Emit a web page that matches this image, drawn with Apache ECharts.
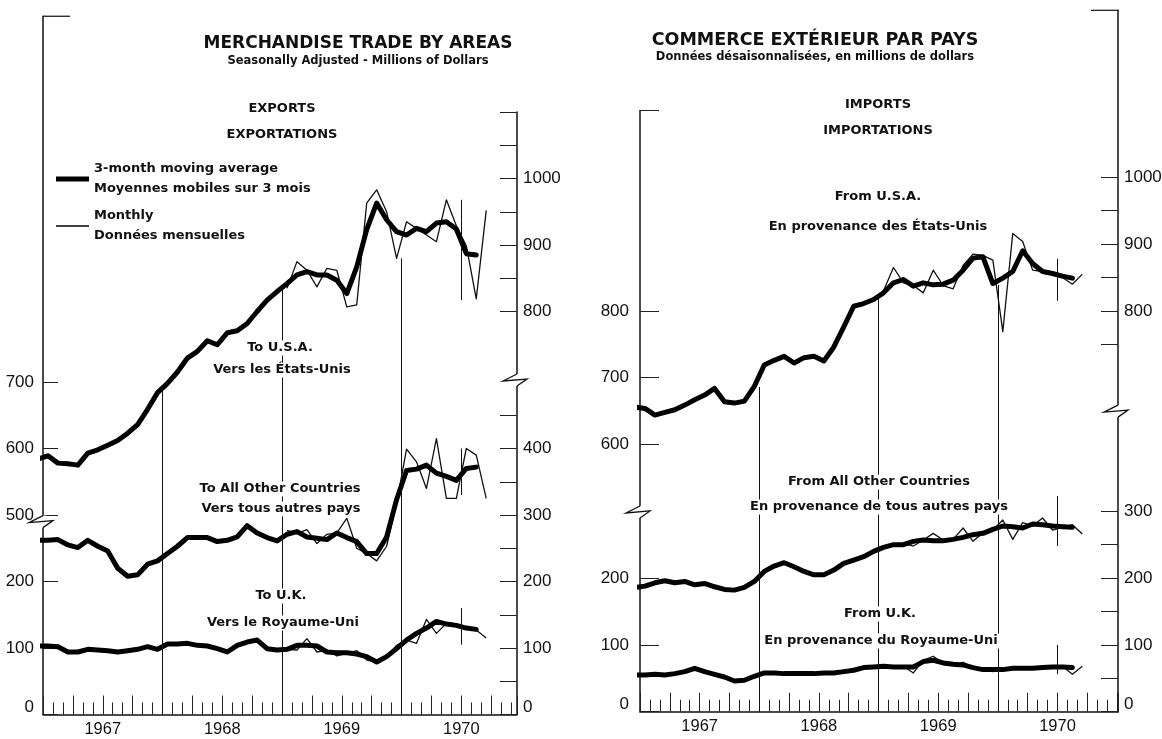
<!DOCTYPE html>
<html><head><meta charset="utf-8">
<script src="https://cdn.jsdelivr.net/npm/echarts@6/dist/echarts.min.js"></script>
<style>html,body{margin:0;padding:0;background:#fff}#c{width:1162px;height:739px}</style>
</head><body><div id="c"></div>
<script>
// ---------------- DATA (millions of dollars) ----------------
const YEARS = ['1967', '1968', '1969', '1970'];
const MA_START = -1;       // first 3-month average: Dec 1966 (month index, Jan 1967 = 0)
const MONTHLY_START = 24;  // monthly figures shown from Jan 1969

// Exports
const expUSA_MA = [584,589,578,577,575,593,598,605,612,623,636,659,684,698,715,736,746,762,756,774,777,788,806,823,836,848,861,866,861,861,853,833,873,929,969,944,926,921,931,926,939,941,930,893,891];
const expUSA_M = [841,881,868,843,871,868,813,816,969,989,956,886,941,931,921,911,974,935,905,825,958];
const expOther_MA = [262,262,263,255,251,262,253,246,220,208,210,226,231,242,253,266,266,266,260,262,267,284,273,266,261,271,275,267,265,263,273,266,260,242,242,267,323,367,369,375,363,358,352,370,372];
const expOther_M = [277,272,278,257,271,273,295,250,242,231,253,317,399,380,340,415,325,325,400,390,325];
const expUK_MA = [103,103,102,94,94,98,97,96,94,96,98,102,98,106,106,107,104,103,99,94,104,109,112,99,97,98,104,104,103,94,93,93,91,87,79,87,99,112,122,130,140,136,134,130,128];
const expUK_M = [98,97,114,94,97,88,92,96,82,78,87,104,112,107,143,122,137,135,130,127,115];

// Imports
const impUSA_MA = [656,654,644,648,652,659,667,674,684,664,662,665,687,719,726,732,722,730,732,725,746,776,807,811,817,827,842,847,837,842,839,840,846,861,879,881,841,849,859,890,871,859,856,852,849];
const impUSA_M = [830,865,842,838,827,861,838,833,868,885,883,876,769,916,904,861,859,855,850,840,855];
const impOther_MA = [186,188,193,196,193,195,190,192,187,183,182,186,195,210,218,223,217,210,205,205,212,222,227,232,240,246,250,250,255,257,256,256,258,261,265,267,273,278,277,275,281,280,278,277,276];
const impOther_M = [246,250,252,248,257,267,257,258,275,255,268,272,287,258,283,278,290,272,276,280,266];
const impUK_MA = [55,55,56,55,57,60,65,60,56,52,46,47,53,58,58,57,57,57,57,58,58,60,62,66,67,68,67,67,67,75,77,73,71,70,66,63,63,63,65,65,65,66,67,67,66];
const impUK_M = [68,67,68,58,77,83,73,70,74,66,64,60,64,64,65,65,68,67,68,56,68];

// year dividers (from zero up to the U.S.A. curve) and the mid-1970 markers
const YEAR_BOUNDS = [12, 24, 36];
const expDividerTops = [691, 842, 886];
const impDividerTops = [686, 819, 839];
const MARK_MONTH = 42;
const expMarkSpans = [[823, 974], [330, 400], [105, 160]];
const impMarkSpans = [[815, 878], [248, 323], [56, 100]];

// ---------------- LAYOUT ----------------
const P1 = { L: 43, W: 474, Z: 714.5, S: 0.665 };
const P2 = { L: 640, W: 478, Z: 711.7, S: 0.668 };
P1.XMAX = P1.W / 9.96; P2.XMAX = P2.W / 9.94;
const FONT = '"DejaVu Sans", sans-serif';
const NUMFONT = '"Liberation Sans", sans-serif';
const NUMSIZE = 17;
const AXIS_LINE = { color: '#111', width: 1.5 };

const grids = [], xAxes = [], yAxes = [];
function addGrid(P, vFrom, vTo) {
  grids.push({ left: P.L, width: P.W, top: P.Z - vTo * P.S, height: (vTo - vFrom) * P.S, outerBoundsMode: 'none' });
  return grids.length - 1;
}
// data grid: bottom axis (monthly + quarterly ticks, year labels) and one full-height axis line
function addDataGrid(P, upperOffset, lineSide) {
  const g = addGrid(P, 0, 1050);
  const xi = xAxes.length;
  xAxes.push({ type: 'value', gridIndex: g, position: 'bottom', min: 0, max: P.XMAX, interval: 1,
    axisLine: { show: true, onZero: false, lineStyle: AXIS_LINE },
    axisTick: { show: true, inside: true, length: 12, lineStyle: { color: '#222', width: 1 } },
    axisLabel: { show: true, margin: 6, color: '#111', fontSize: 16.5, fontFamily: NUMFONT,
      formatter: v => (Number.isInteger(v) && (v - 6) % 12 === 0 && YEARS[(v - 6) / 12]) ? YEARS[(v - 6) / 12] : '' },
    splitLine: { show: false } });
  xAxes.push({ type: 'value', gridIndex: g, position: 'bottom', min: 0, max: P.XMAX, interval: 3,
    axisLine: { show: false, onZero: false }, axisLabel: { show: false }, splitLine: { show: false },
    axisTick: { show: true, inside: true, length: 19, lineStyle: { color: '#222', width: 1 } } });
  const yi = yAxes.length;
  yAxes.push({ type: 'value', gridIndex: g, position: lineSide, min: 0, max: 1050,
    axisLine: { show: true, onZero: false, lineStyle: AXIS_LINE }, axisTick: { show: false },
    axisLabel: { show: false }, splitLine: { show: false } });
  yAxes.push({ type: 'value', gridIndex: g, min: upperOffset, max: upperOffset + 1050, show: false });
  return { x: xi, yLow: yi, yUp: yi + 1 };
}
// axis line only, for the shorter side of a panel
function addLine(P, side, vTo) {
  const g = addGrid(P, 0, vTo);
  xAxes.push({ type: 'value', gridIndex: g, min: 0, max: P.XMAX, show: false });
  yAxes.push({ type: 'value', gridIndex: g, position: side, min: 0, max: vTo,
    axisLine: { show: true, onZero: false, lineStyle: AXIS_LINE }, axisTick: { show: false },
    axisLabel: { show: false }, splitLine: { show: false } });
}
// ticks and labels for one stretch of a broken axis
function addSeg(P, side, vFrom, vTo, aFrom, o) {
  const g = addGrid(P, vFrom, vTo);
  xAxes.push({ type: 'value', gridIndex: g, min: 0, max: P.XMAX, show: false });
  const labels = o.labels || [];
  yAxes.push({ type: 'value', gridIndex: g, position: side, min: aFrom, max: aFrom + (vTo - vFrom),
    interval: o.interval,
    axisLine: { show: false, onZero: false },
    axisTick: { show: true, inside: true, length: o.tickLen, lineStyle: { color: '#222', width: 1 } },
    axisLabel: { show: labels.length > 0, margin: o.margin || 7, color: '#111', fontSize: NUMSIZE, fontFamily: NUMFONT,
      formatter: v => labels.indexOf(v) < 0 ? '' : (v === 0 ? '{z|0}' : String(v)),
      rich: { z: { padding: [0, 0, 15, 0], fontSize: NUMSIZE, fontFamily: NUMFONT, color: '#111' } } },
    splitLine: { show: false } });
}

const D1 = addDataGrid(P1, 200, 'left');
const D2 = addDataGrid(P2, 200, 'right');
addLine(P1, 'right', 906);
addLine(P2, 'left', 900);
// panel 1 – left axis
addSeg(P1, 'left', 0, 300, 0, { interval: 100, labels: [0, 100, 200], tickLen: 15, margin: 9 });
addSeg(P1, 'left', 300, 500, 500, { interval: 100, labels: [500, 600, 700], tickLen: 15, margin: 9 });
// panel 1 – right axis
addSeg(P1, 'right', 0, 450, 0, { interval: 50, labels: [0, 100, 200, 300, 400], tickLen: 17, margin: 6 });
addSeg(P1, 'right', 606, 906, 800, { interval: 50, labels: [800, 900, 1000], tickLen: 17, margin: 6 });
// panel 2 – left axis
addSeg(P2, 'left', 0, 200, 0, { interval: 100, labels: [0, 100, 200], tickLen: 19, margin: 11 });
addSeg(P2, 'left', 400, 600, 600, { interval: 100, labels: [600, 700, 800], tickLen: 19, margin: 11 });
addSeg(P2, 'left', 600, 900, 800, { interval: 300, tickLen: 19 });
// panel 2 – right axis
addSeg(P2, 'right', 0, 300, 0, { interval: 50, labels: [0, 100, 200, 300], tickLen: 17, margin: 6 });
addSeg(P2, 'right', 550, 800, 750, { interval: 50, labels: [800, 900, 1000], tickLen: 17, margin: 6 });

const MA_NAME = '3-month moving average', M_NAME = 'Monthly';
function pts(arr, start) { return arr.map((v, k) => [start + k + 0.5, v]); }
function maSeries(arr, D, yi, marks) {
  const s = { name: MA_NAME, type: 'line', xAxisIndex: D.x, yAxisIndex: yi, data: pts(arr, MA_START),
    showSymbol: false, symbol: 'none', color: '#000', lineStyle: { color: '#000', width: 5, join: 'round', cap: 'round' },
    z: 3, silent: true, animation: false };
  if (marks) s.markLine = { silent: true, symbol: ['none', 'none'], label: { show: false }, animation: false,
    lineStyle: { color: '#111', width: 1, type: 'solid' }, data: marks };
  return s;
}
function mSeries(arr, D, yi) {
  return { name: M_NAME, type: 'line', xAxisIndex: D.x, yAxisIndex: yi, data: pts(arr, MONTHLY_START),
    showSymbol: false, symbol: 'none', color: '#000', lineStyle: { color: '#111', width: 1.3, join: 'round' },
    z: 2, silent: true, animation: false };
}
function vseg(x, a, b) { return [{ coord: [x, a] }, { coord: [x, b] }]; }
const expDiv = YEAR_BOUNDS.map((m, k) => vseg(m, 200, expDividerTops[k]));
const impDiv = YEAR_BOUNDS.map((m, k) => vseg(m, 200, impDividerTops[k]));

const series = [
  maSeries(expUSA_MA, D1, D1.yUp, expDiv.concat([vseg(MARK_MONTH, expMarkSpans[0][0], expMarkSpans[0][1])])),
  mSeries(expUSA_M, D1, D1.yUp),
  maSeries(expOther_MA, D1, D1.yLow, [vseg(MARK_MONTH, expMarkSpans[1][0], expMarkSpans[1][1])]),
  mSeries(expOther_M, D1, D1.yLow),
  maSeries(expUK_MA, D1, D1.yLow, [vseg(MARK_MONTH, expMarkSpans[2][0], expMarkSpans[2][1])]),
  mSeries(expUK_M, D1, D1.yLow),
  maSeries(impUSA_MA, D2, D2.yUp, impDiv.concat([vseg(MARK_MONTH, impMarkSpans[0][0], impMarkSpans[0][1])])),
  mSeries(impUSA_M, D2, D2.yUp),
  maSeries(impOther_MA, D2, D2.yLow, [vseg(MARK_MONTH, impMarkSpans[1][0], impMarkSpans[1][1])]),
  mSeries(impOther_M, D2, D2.yLow),
  maSeries(impUK_MA, D2, D2.yLow, [vseg(MARK_MONTH, impMarkSpans[2][0], impMarkSpans[2][1])]),
  mSeries(impUK_M, D2, D2.yLow)
];

function txt(t, x, y, size, bg) {
  const st = { text: t, textAlign: 'center', textVerticalAlign: 'middle', font: 'bold ' + size + 'px ' + FONT, fill: '#111' };
  if (bg) { st.backgroundColor = '#fff'; st.padding = [1, 3]; }
  return { type: 'text', x: x, y: y, silent: true, z: 100, style: st };
}
const texts = [
  txt('MERCHANDISE TRADE BY AREAS', 358, 44, 17),
  txt('Seasonally Adjusted - Millions of Dollars', 358, 61, 11.5),
  txt('EXPORTS', 282, 109, 13), txt('EXPORTATIONS', 282, 135, 13),
  txt('To U.S.A.', 280, 348, 13, true), txt('Vers les États-Unis', 282, 370, 13, true),
  txt('To All Other Countries', 280, 489, 13, true), txt('Vers tous autres pays', 281, 509, 13, true),
  txt('To U.K.', 281, 596, 13, true), txt('Vers le Royaume-Uni', 283, 623, 13, true),
  txt('COMMERCE EXTÉRIEUR PAR PAYS', 815, 40, 17.5),
  txt('Données désaisonnalisées, en millions de dollars', 815, 57, 11.5),
  txt('IMPORTS', 878, 105, 13), txt('IMPORTATIONS', 878, 131, 13),
  txt('From U.S.A.', 878, 197, 13, true), txt('En provenance des États-Unis', 878, 227, 13, true),
  txt('From All Other Countries', 879, 482, 13, true), txt('En provenance de tous autres pays', 879, 507, 13, true),
  txt('From U.K.', 880, 614, 13, true), txt('En provenance du Royaume-Uni', 881, 641, 13, true)
];

const legendText = { '3-month moving average': '3-month moving average\nMoyennes mobiles sur 3 mois',
  'Monthly': 'Monthly\nDonnées mensuelles' };
const legends = [
  { data: [MA_NAME], left: 56, top: 153, padding: 0, icon: 'rect', itemWidth: 33, itemHeight: 5, selectedMode: false,
    formatter: n => legendText[n], textStyle: { fontFamily: FONT, fontWeight: 'bold', fontSize: 13, color: '#111', lineHeight: 20, padding: [12, 0, 0, 0] } },
  { data: [M_NAME], left: 56, top: 206, padding: 0, icon: 'rect', itemWidth: 33, itemHeight: 1.5, selectedMode: false,
    formatter: n => legendText[n], textStyle: { fontFamily: FONT, fontWeight: 'bold', fontSize: 13, color: '#111', lineHeight: 20 } }
];

const chart = echarts.init(document.getElementById('c'), null, { renderer: 'canvas' });
chart.setOption({ backgroundColor: '#fff', animation: false, grid: grids, xAxis: xAxes, yAxis: yAxes,
  legend: legends, series: series, graphic: texts });

// axis-break zigzags and the long corner ticks at the top of the tall axes
function zig(x, y) {
  return [
    { type: 'rect', silent: true, z: 50, shape: { x: x - 4, y: y - 6, width: 8, height: 12 }, style: { fill: '#fff' } },
    { type: 'polyline', silent: true, z: 51, shape: { points: [[x, y - 6], [x - 14, y + 1], [x + 10, y - 1], [x, y + 6]] },
      style: { stroke: '#111', lineWidth: 1.3, fill: null } }
  ];
}
function hline(x1, x2, y) {
  return { type: 'line', silent: true, z: 50, shape: { x1: x1, y1: y, x2: x2, y2: y }, style: { stroke: '#111', lineWidth: 1.2 } };
}
// keep the stretch just below the 800 tick of the export scale clear (no tick there in the original)
function clearStrip(x1, x2, y) {
  return { type: 'rect', silent: true, z: 49, shape: { x: x1, y: y - 4, width: x2 - x1, height: 8 }, style: { fill: '#fff' } };
}
const px = (yi, v) => chart.convertToPixel({ yAxisIndex: yi }, v);
let extra = [];
extra = extra.concat(zig(P1.L, px(D1.yLow, 290)));
extra = extra.concat(zig(P1.L + P1.W, px(D1.yLow, 503)));
extra = extra.concat(zig(P2.L, px(D2.yLow, 299)));
extra = extra.concat(zig(P2.L + P2.W, px(D2.yLow, 450)));
extra.push(hline(P1.L, P1.L + 27, px(D1.yLow, 1050)));
extra.push(hline(P2.L + P2.W - 27, P2.L + P2.W, px(D2.yLow, 1050)));
extra.push(clearStrip(P1.L + P1.W - 20, P1.L + P1.W - 1, px(D1.yLow, 556)));
chart.setOption({ graphic: texts.concat(extra) });
</script></body></html>
